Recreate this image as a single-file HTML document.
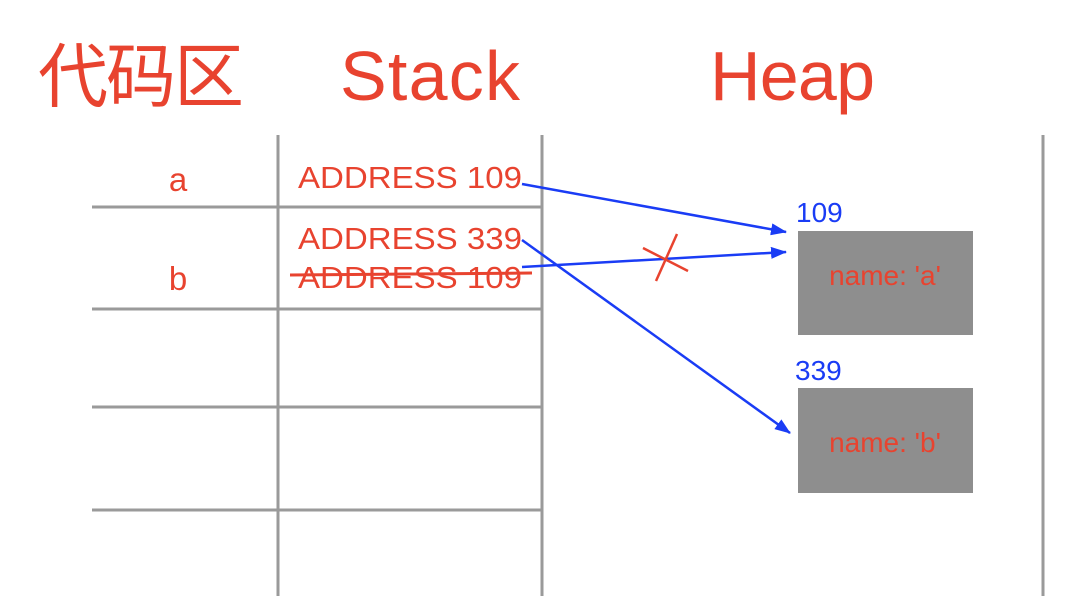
<!DOCTYPE html>
<html><head><meta charset="utf-8"><style>
html,body{margin:0;padding:0;background:#fff;width:1078px;height:596px;overflow:hidden}
text{font-family:"Liberation Sans","Noto Sans CJK SC",sans-serif}
</style></head><body>
<svg width="1078" height="596" viewBox="0 0 1078 596">
<defs><marker id="ah" markerWidth="16" markerHeight="12" refX="15" refY="6" orient="auto" markerUnits="userSpaceOnUse"><path d="M0,0 L16,6 L0,12 z" fill="#1a3cf5"/></marker></defs>
<g fill="#e8432f">
<text x="38" y="101" font-size="70" textLength="206">代码区</text>
<text x="340" y="100" font-size="70" textLength="180">Stack</text>
<text x="710" y="100" font-size="70" textLength="165">Heap</text>
</g>
<g stroke="#9a9a9a" stroke-width="3">
<line x1="278" y1="135" x2="278" y2="596"/>
<line x1="542" y1="135" x2="542" y2="596"/>
<line x1="1043" y1="135" x2="1043" y2="596"/>
<line x1="92" y1="207" x2="542" y2="207"/>
<line x1="92" y1="309" x2="542" y2="309"/>
<line x1="92" y1="407" x2="542" y2="407"/>
<line x1="92" y1="510" x2="542" y2="510"/>
</g>
<g fill="#e8432f" font-size="33">
<text x="178" y="191" text-anchor="middle">a</text>
<text x="178" y="290" text-anchor="middle">b</text>
</g>
<g fill="#e8432f" font-size="31">
<text x="298" y="188" textLength="224" lengthAdjust="spacingAndGlyphs">ADDRESS  109</text>
<text x="298" y="249" textLength="224" lengthAdjust="spacingAndGlyphs">ADDRESS  339</text>
<text x="298" y="288" textLength="224" lengthAdjust="spacingAndGlyphs">ADDRESS  109</text>
</g>
<line x1="290" y1="275" x2="532" y2="273" stroke="#e8432f" stroke-width="3"/>
<rect x="798" y="231" width="175" height="104" fill="#8e8e8e"/>
<rect x="798" y="388" width="175" height="105" fill="#8e8e8e"/>
<g fill="#e8432f" font-size="28" text-anchor="middle">
<text x="885" y="285">name: 'a'</text>
<text x="885" y="452">name: 'b'</text>
</g>
<g fill="#1a3cf5" font-size="28">
<text x="796" y="222">109</text>
<text x="795" y="380">339</text>
</g>
<g stroke="#1a3cf5" stroke-width="2.5" fill="none" marker-end="url(#ah)">
<line x1="522" y1="184" x2="786" y2="232"/>
<line x1="522" y1="267" x2="786" y2="252"/>
<line x1="522" y1="240" x2="790" y2="433"/>
</g>
<g stroke="#e8432f" stroke-width="2.5">
<line x1="643" y1="248" x2="688" y2="271"/>
<line x1="677" y1="234" x2="656" y2="281"/>
</g>
</svg>
</body></html>
